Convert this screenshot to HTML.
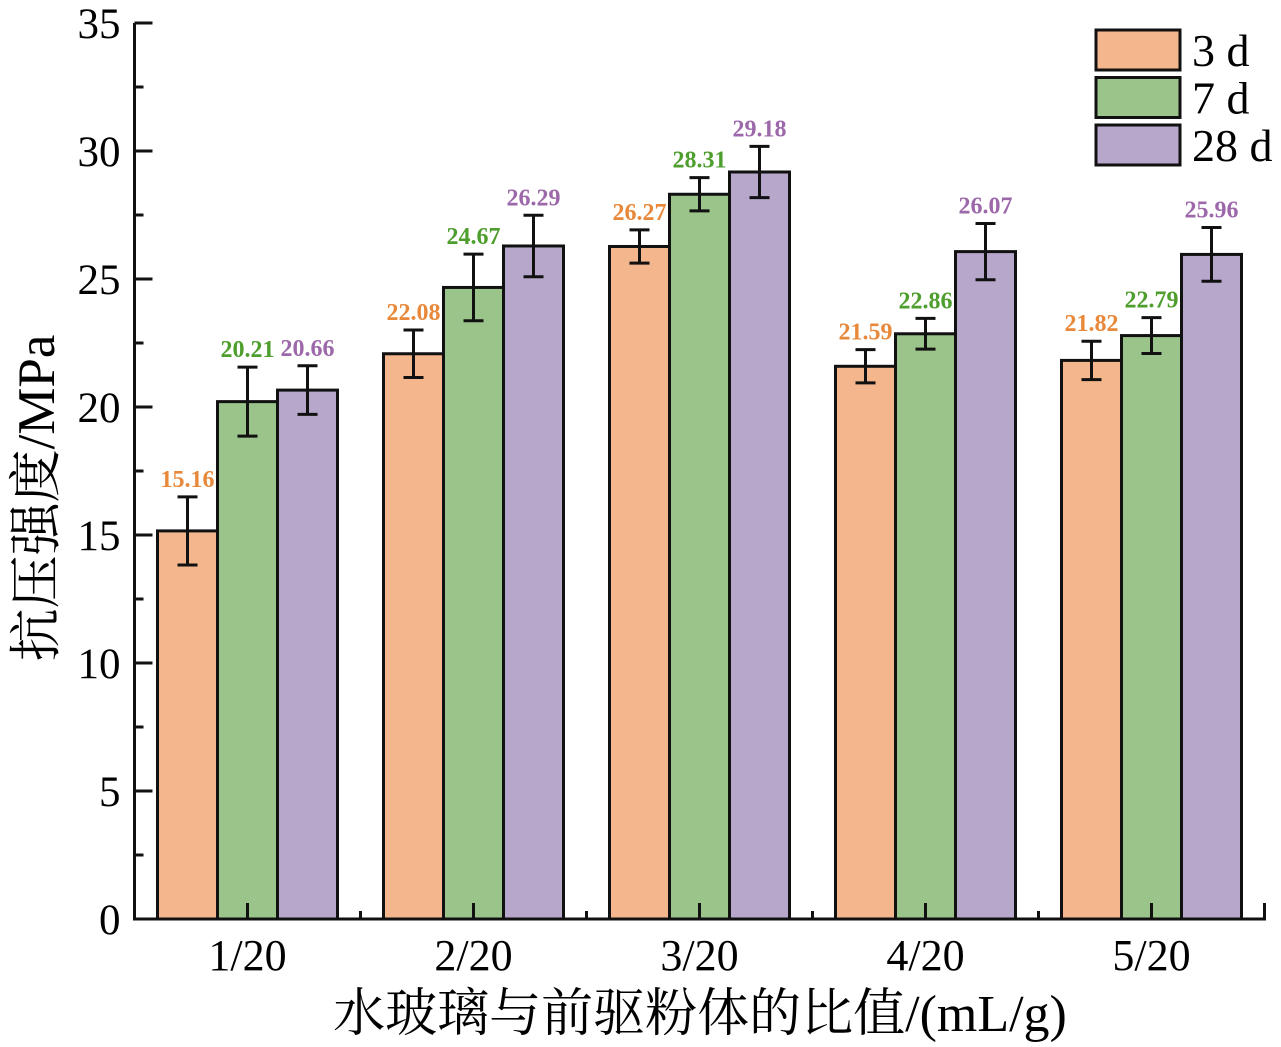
<!DOCTYPE html>
<html><head><meta charset="utf-8">
<style>
body{margin:0;background:#fff;}
svg{display:block;font-family:"Liberation Serif","Noto Serif CJK SC",serif;}
</style></head>
<body>
<svg id="chart" width="1281" height="1047" viewBox="0 0 1281 1047" xmlns="http://www.w3.org/2000/svg">
<g id="bars"></g>
<g id="axes"></g>
<g id="legend"></g>
<text x="54" y="498" font-size="53" text-anchor="middle" transform="rotate(-90 54 498)">抗压强度/MPa</text>
<text x="700" y="1031" font-size="52" text-anchor="middle">水玻璃与前驱粉体的比值/(mL/g)</text>
</svg>
<script>
const categories = ["1/20","2/20","3/20","4/20","5/20"];
const seriesNames = ["3 d","7 d","28 d"];
const values3d = [15.16,22.08,26.27,21.59,21.82];
const values7d = [20.21,24.67,28.31,22.86,22.79];
const values28d = [20.66,26.29,29.18,26.07,25.96];
const err3d = [1.33,0.93,0.65,0.65,0.75];
const err7d = [1.35,1.3,0.65,0.6,0.7];
const err28d = [0.95,1.2,1.0,1.1,1.05];
const yTicks = [0,5,10,15,20,25,30,35];

const fills = ["#F4B78D","#9AC48A","#B6A7CB"];
const labelColors = ["#E8883A","#4E9E2E","#9C68AA"];
const NS = "http://www.w3.org/2000/svg";
const y0 = 919, yScale = 25.6;
const xLeft = 134.5, xStep = 226;
const yPos = v => y0 - v * yScale;
const xPos = i => xLeft + xStep * (i + 0.5);
const barW = 60;
function mk(tag, attrs, parent){const e=document.createElementNS(NS,tag);for(const k in attrs)e.setAttribute(k,attrs[k]);parent.appendChild(e);return e;}

const bars = document.getElementById('bars');
const allVals = [values3d, values7d, values28d];
const allErr = [err3d, err7d, err28d];
categories.forEach((c, i) => {
  for (let s = 0; s < 3; s++) {
    const v = allVals[s][i], er = allErr[s][i];
    const cx = xPos(i) + (s - 1) * barW;
    const r = mk('rect', {x: cx - barW/2, y: yPos(v), width: barW, height: y0 - yPos(v), fill: fills[s], stroke: '#111', 'stroke-width': 3}, bars);
    
    
    const g = mk('g', {stroke: '#111', 'stroke-width': 3}, bars);
    
    
    mk('line', {x1: cx, x2: cx, y1: yPos(v + er), y2: yPos(v - er)}, g);
    mk('line', {x1: cx - 10, x2: cx + 10, y1: yPos(v + er), y2: yPos(v + er)}, g);
    mk('line', {x1: cx - 10, x2: cx + 10, y1: yPos(v - er), y2: yPos(v - er)}, g);
    const t = mk('text', {x: cx, y: yPos(v + er) - 10, 'font-size': 24, 'font-weight': 'bold', fill: labelColors[s], 'text-anchor': 'middle'}, bars);
    t.textContent = v.toFixed(2);
    
    
  }
});

const axes = document.getElementById('axes');
const xRight = xLeft + xStep * categories.length;
mk('line', {x1: xLeft, x2: xLeft, y1: y0 + 1.5, y2: yPos(35), stroke: '#111', 'stroke-width': 3}, axes);
mk('line', {x1: xLeft - 1.5, x2: xRight + 1.5, y1: y0, y2: y0, stroke: '#111', 'stroke-width': 3}, axes);
yTicks.forEach(v => {
  mk('line', {x1: xLeft, x2: xLeft + 18, y1: yPos(v), y2: yPos(v), stroke: '#111', 'stroke-width': 3}, axes);
  if (v < 35) mk('line', {x1: xLeft, x2: xLeft + 9, y1: yPos(v + 2.5), y2: yPos(v + 2.5), stroke: '#111', 'stroke-width': 3}, axes);
  const t = mk('text', {x: xLeft - 14, y: yPos(v) + 15, 'font-size': 43, 'text-anchor': 'end'}, axes);
  t.textContent = v;
  
  
});
categories.forEach((c, i) => {
  mk('line', {x1: xPos(i), x2: xPos(i), y1: y0, y2: y0 - 16, stroke: '#111', 'stroke-width': 3}, axes);
  mk('line', {x1: xLeft + xStep * (i + 1), x2: xLeft + xStep * (i + 1), y1: y0, y2: y0 - 8, stroke: '#111', 'stroke-width': 3}, axes);
  const t = mk('text', {x: xPos(i), y: 970, 'font-size': 44, 'text-anchor': 'middle'}, axes);
  t.textContent = c;
  
  
});
mk('line', {x1: xRight, x2: xRight, y1: y0, y2: y0 - 16, stroke: '#111', 'stroke-width': 3}, axes);

const legend = document.getElementById('legend');
seriesNames.forEach((n, s) => {
  const y = 30 + s * 47.5;
  const r = mk('rect', {x: 1096, y: y, width: 84, height: 40, fill: fills[s], stroke: '#111', 'stroke-width': 3}, legend);
  
  
  const t = mk('text', {x: 1192, y: y + 36, 'font-size': 46}, legend);
  t.textContent = n;
  
  
});
</script>
</body></html>
